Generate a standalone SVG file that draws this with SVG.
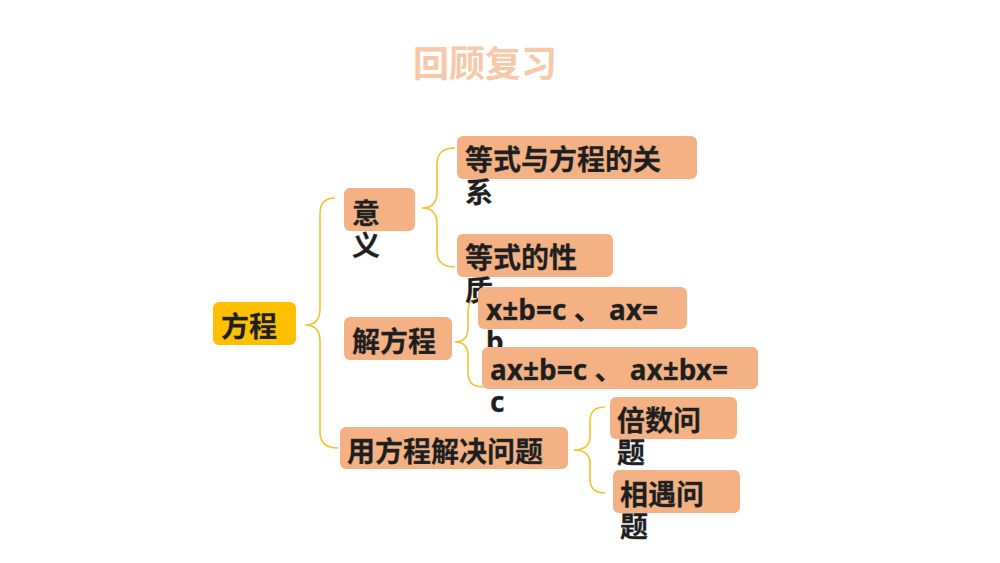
<svg xmlns="http://www.w3.org/2000/svg" width="1000" height="563" viewBox="0 0 1000 563">
<style>
.box{fill:#F4B183;}
.root{fill:#FFC000;}
.t{font-family:"Noto Sans CJK SC","Noto Sans",sans-serif;font-weight:bold;font-size:28px;fill:#1E1E1E;stroke:#3a3a3a;stroke-width:0.3;}
.lat{font-family:"Noto Sans","Noto Sans CJK SC",sans-serif;}
.br{fill:none;stroke:#F5C232;stroke-width:1.6;}
.title{font-family:"Noto Sans CJK SC","Noto Sans",sans-serif;font-weight:bold;font-size:36px;fill:#F7C9A8;}
</style>
<rect width="1000" height="563" fill="#FFFFFF"/>
<text class="title" x="413" y="77">回顾复习</text>
<g id="connectors">
<path class="br" d="M335,198 Q320,198 320,214 L320,309 Q320,325 305,325 Q320,325 320,341 L320,432 Q320,448 338,448"/>
<path class="br" d="M455,148 Q437,148 437,164 L437,192 Q437,208 422,208 Q437,208 437,224 L437,251 Q437,267 455,267"/>
<path class="br" d="M480,298 Q468,298 468,312 L468,328 Q468,342 455,342 Q468,342 468,356 L468,373 Q468,387 483,387"/>
<path class="br" d="M605,407 Q590,407 590,421 L590,436 Q590,450 574,450 Q590,450 590,464 L590,479 Q590,493 605,493"/>
</g>
<g id="n-root">
<rect class="root" x="213" y="302" width="83" height="43" rx="6"/>
<text class="t" x="221" y="337">方程</text>
</g>
<g id="n-yiyi">
<rect class="box" x="344" y="188" width="71" height="43" rx="6"/>
<text class="t" x="352" y="224">意</text>
<text class="t" x="352" y="256">义</text>
</g>
<g id="n-rel">
<rect class="box" x="457" y="136" width="240" height="43" rx="6"/>
<text class="t" x="465" y="170">等式与方程的关</text>
<text class="t" x="465" y="203">系</text>
</g>
<g id="n-prop">
<rect class="box" x="457" y="234" width="156" height="43" rx="6"/>
<text class="t" x="465" y="268">等式的性</text>
<text class="t" x="465" y="301">质</text>
</g>
<g id="n-jie">
<rect class="box" x="344" y="317" width="108" height="43" rx="6"/>
<text class="t" x="352" y="352">解方程</text>
</g>
<g id="n-eq1">
<rect class="box" x="478" y="287" width="209" height="42" rx="6"/>
<text class="t lat" x="486" y="320">x±b=c 、 ax=</text>
<text class="t lat" x="486" y="352">b</text>
</g>
<g id="n-eq2">
<rect class="box" x="482" y="347" width="276" height="42" rx="6"/>
<text class="t lat" x="490" y="380">ax±b=c 、 ax±bx=</text>
<text class="t lat" x="490" y="412">c</text>
</g>
<g id="n-use">
<rect class="box" x="340" y="427" width="228" height="42" rx="6"/>
<text class="t" x="347" y="462">用方程解决问题</text>
</g>
<g id="n-bei">
<rect class="box" x="610" y="397" width="127" height="42" rx="6"/>
<text class="t" x="617" y="431">倍数问</text>
<text class="t" x="617" y="463">题</text>
</g>
<g id="n-xiang">
<rect class="box" x="613" y="470" width="127" height="43" rx="6"/>
<text class="t" x="620" y="505">相遇问</text>
<text class="t" x="620" y="537">题</text>
</g>
</svg>
